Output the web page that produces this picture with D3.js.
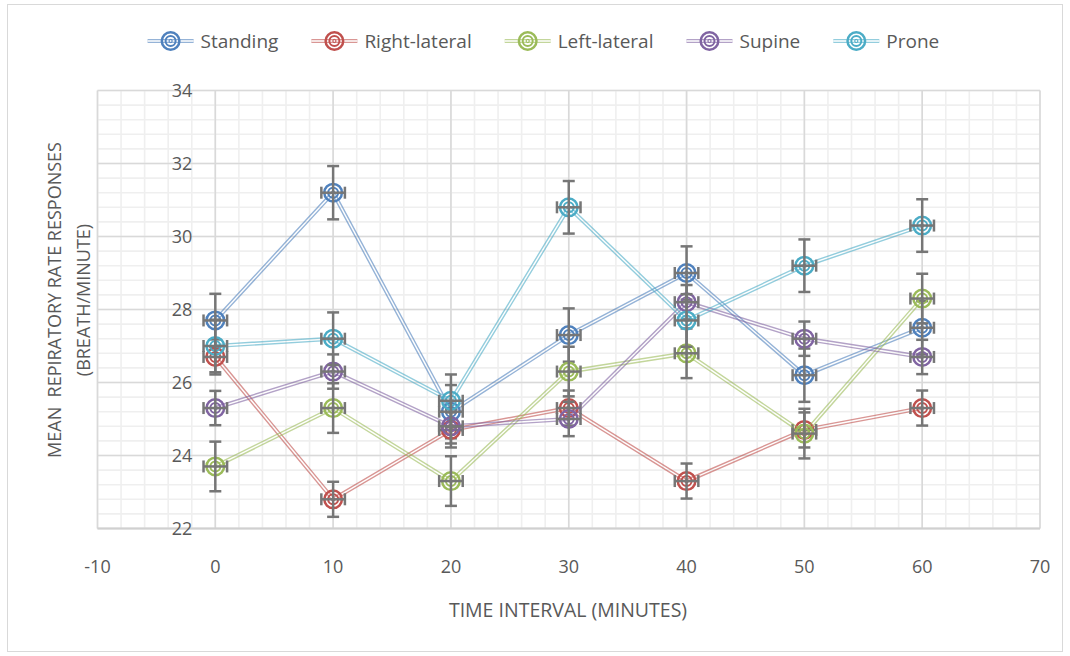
<!DOCTYPE html>
<html>
<head>
<meta charset="utf-8">
<script src="https://cdn.jsdelivr.net/npm/d3@7"></script>
<style>
  body { margin: 0; background: #fff; }
  text { font-family: "Open Sans", Lato, sans-serif; fill: #595959; }
</style>
</head>
<body>
<div id="chart"></div>
<script>
// time points (minutes)
var times = [0, 10, 20, 30, 40, 50, 60];
var seriesNames = ["Standing", "Right-lateral", "Left-lateral", "Supine", "Prone"];
var colors = ["#4F81BD", "#C0504D", "#9BBB59", "#8064A2", "#4BACC6"];

// mean respiratory rate per position
var standing = [27.7, 31.2, 25.2, 27.3, 29.0, 26.2, 27.5];
var rightLateral = [26.7, 22.8, 24.7, 25.3, 23.3, 24.7, 25.3];
var leftLateral = [23.7, 25.3, 23.3, 26.3, 26.8, 24.6, 28.3];
var supine = [25.3, 26.3, 24.8, 25.0, 28.2, 27.2, 26.7];
var prone = [27.0, 27.2, 25.5, 30.8, 27.7, 29.2, 30.3];

// error bar sizes (y per series, x shared)
var yErrors = [0.73, 0.48, 0.68, 0.47, 0.72];
var xError = 1;

var xTicks = [-10, 0, 10, 20, 30, 40, 50, 60, 70];
var yTicks = [22, 24, 26, 28, 30, 32, 34];

var allSeries = [standing, rightLateral, leftLateral, supine, prone];

var W = 1070, H = 656;
var svg = d3.select("#chart").append("svg")
  .attr("width", W)
  .attr("height", H);

// chart border
svg.append("rect")
  .attr("x", 7.5).attr("y", 4.5)
  .attr("width", 1055).attr("height", 647)
  .attr("fill", "#fff")
  .attr("stroke", "#d9d9d9");

var x = d3.scaleLinear().domain([-10, 70]).range([97.5, 1040]);
var y = d3.scaleLinear().domain([22, 34]).range([528.5, 90.5]);

// minor gridlines
var g = svg.append("g");
g.selectAll("line.vminor")
  .data(d3.range(-10, 70.01, 2))
  .enter().append("line")
  .attr("x1", function (d) { return x(d); })
  .attr("x2", function (d) { return x(d); })
  .attr("y1", y(22)).attr("y2", y(34))
  .attr("stroke", "#efefef").attr("stroke-width", 1.6);
g.selectAll("line.hminor")
  .data(d3.range(22, 34.01, 0.4))
  .enter().append("line")
  .attr("y1", function (d) { return y(d); })
  .attr("y2", function (d) { return y(d); })
  .attr("x1", x(-10)).attr("x2", x(70))
  .attr("stroke", "#efefef").attr("stroke-width", 1.6);

// major gridlines
g.selectAll("line.vmajor")
  .data(xTicks)
  .enter().append("line")
  .attr("x1", function (d) { return x(d); })
  .attr("x2", function (d) { return x(d); })
  .attr("y1", y(22)).attr("y2", y(34))
  .attr("stroke", "#d9d9d9").attr("stroke-width", 1.6);
g.selectAll("line.hmajor")
  .data(yTicks)
  .enter().append("line")
  .attr("y1", function (d) { return y(d); })
  .attr("y2", function (d) { return y(d); })
  .attr("x1", x(-10)).attr("x2", x(70))
  .attr("stroke", "#d9d9d9").attr("stroke-width", 1.6);

// x axis line
svg.append("line")
  .attr("x1", x(-10)).attr("x2", x(70))
  .attr("y1", y(22)).attr("y2", y(22))
  .attr("stroke", "#d0d0d0").attr("stroke-width", 1.8);

// tick labels
svg.selectAll("text.xt")
  .data(xTicks)
  .enter().append("text")
  .attr("x", function (d) { return x(d); })
  .attr("y", 567)
  .attr("dy", "0.35em")
  .attr("text-anchor", "middle")
  .style("font-size", "18px")
  .text(function (d) { return d; });

svg.selectAll("text.yt")
  .data(yTicks)
  .enter().append("text")
  .attr("x", x(0) - 23)
  .attr("y", function (d) { return y(d); })
  .attr("dy", "0.35em")
  .attr("text-anchor", "end")
  .style("font-size", "18px")
  .text(function (d) { return d; });

// axis titles
svg.append("text")
  .attr("x", 568)
  .attr("y", 610)
  .attr("dy", "0.35em")
  .attr("text-anchor", "middle")
  .style("font-size", "19.5px")
  .text("TIME INTERVAL (MINUTES)");

var yTitle = svg.append("text")
  .attr("transform", "translate(55,300) rotate(-90)")
  .attr("text-anchor", "middle")
  .style("font-size", "18px");
yTitle.append("tspan").attr("x", 0).attr("dy", "0.35em")
  .text("MEAN\u00a0 REPIRATORY RATE RESPONSES");
yTitle.append("tspan").attr("x", 0).attr("dy", "1.6em")
  .text("(BREATH/MINUTE)");

// marker: double ring target
function drawMarker(sel, color) {
  sel.append("circle").attr("r", 8.8).attr("fill", "none")
    .attr("stroke", color).attr("stroke-width", 2.5);
  sel.append("circle").attr("r", 5).attr("fill", "none")
    .attr("stroke", color).attr("stroke-width", 2);
  sel.append("circle").attr("r", 1.6).attr("fill", "none")
    .attr("stroke", color).attr("stroke-width", 1);
}

var defs = svg.append("defs");
var line = d3.line()
  .x(function (d) { return x(d.t); })
  .y(function (d) { return y(d.v); });

allSeries.forEach(function (vals, i) {
  var pts = vals.map(function (v, j) { return { t: times[j], v: v }; });
  var color = colors[i];
  var err = yErrors[i];

  // double line: colored stroke with a hollow core via mask
  var m = defs.append("mask").attr("id", "m" + i)
    .attr("maskUnits", "userSpaceOnUse")
    .attr("x", 0).attr("y", 0).attr("width", W).attr("height", H);
  m.append("rect").attr("width", W).attr("height", H).attr("fill", "#fff");
  m.append("path").attr("d", line(pts)).attr("fill", "none")
    .attr("stroke", "#000").attr("stroke-width", 1.4);

  svg.append("path")
    .attr("d", line(pts))
    .attr("fill", "none")
    .attr("stroke", color)
    .attr("stroke-opacity", 0.6)
    .attr("stroke-width", 4.2)
    .attr("mask", "url(#m" + i + ")");

  var grp = svg.append("g");
  var pg = grp.selectAll("g.pt")
    .data(pts)
    .enter().append("g")
    .attr("transform", function (d) { return "translate(" + x(d.t) + "," + y(d.v) + ")"; });
  drawMarker(pg, color);

  // error bars
  var eb = grp.selectAll("g.err")
    .data(pts)
    .enter().append("g")
    .attr("stroke", "#767676")
    .attr("stroke-width", 2.5);
  eb.append("line")
    .attr("x1", function (d) { return x(d.t); })
    .attr("x2", function (d) { return x(d.t); })
    .attr("y1", function (d) { return y(d.v - err); })
    .attr("y2", function (d) { return y(d.v + err); });
  [-1, 1].forEach(function (s) {
    eb.append("line")
      .attr("x1", function (d) { return x(d.t) - 6; })
      .attr("x2", function (d) { return x(d.t) + 6; })
      .attr("y1", function (d) { return y(d.v + s * err); })
      .attr("y2", function (d) { return y(d.v + s * err); });
  });
  eb.append("line")
    .attr("x1", function (d) { return x(d.t - xError); })
    .attr("x2", function (d) { return x(d.t + xError); })
    .attr("y1", function (d) { return y(d.v); })
    .attr("y2", function (d) { return y(d.v); });
  [-1, 1].forEach(function (s) {
    eb.append("line")
      .attr("x1", function (d) { return x(d.t + s * xError); })
      .attr("x2", function (d) { return x(d.t + s * xError); })
      .attr("y1", function (d) { return y(d.v) - 6; })
      .attr("y2", function (d) { return y(d.v) + 6; });
  });
});

// legend
var lx = 147.6, ly = 41;
seriesNames.forEach(function (name, i) {
  var lg = svg.append("g");
  lg.append("line")
    .attr("x1", lx).attr("x2", lx + 46)
    .attr("y1", ly).attr("y2", ly)
    .attr("stroke", colors[i]).attr("stroke-opacity", 0.6)
    .attr("stroke-width", 4.2);
  lg.append("line")
    .attr("x1", lx).attr("x2", lx + 46)
    .attr("y1", ly).attr("y2", ly)
    .attr("stroke", "#fff").attr("stroke-width", 1.4);
  var mk = lg.append("g").attr("transform", "translate(" + (lx + 23) + "," + ly + ")");
  drawMarker(mk, colors[i]);
  var t = lg.append("text")
    .attr("x", lx + 53)
    .attr("y", ly)
    .attr("dy", "0.35em")
    .style("font-size", "19px")
    .text(name);
  lx = lx + 53 + t.node().getComputedTextLength() + 33;
});
</script>
</body>
</html>
